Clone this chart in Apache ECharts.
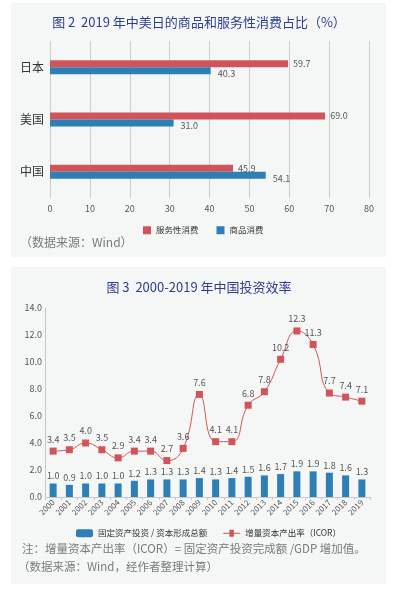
<!DOCTYPE html>
<html>
<head>
<meta charset="utf-8">
<script src="https://cdn.jsdelivr.net/npm/echarts@6/dist/echarts.min.js"></script>
<style>
html,body{margin:0;padding:0;background:#ffffff;}
#wrap{position:relative;width:398px;height:595px;}
.panel{position:absolute;background:#f5f7f7;}
#chart{position:absolute;left:0;top:0;width:398px;height:595px;}
</style>
</head>
<body>
<div id="wrap">
  <div class="panel" style="left:11px;top:3px;width:375px;height:254px;"></div>
  <div class="panel" style="left:11px;top:267px;width:375px;height:317px;"></div>
  <div id="chart"></div>
</div>
<script>
// ---- Chart 1 data ----
const countries = ['日本', '美国', '中国'];
const serviceShare = [59.7, 69.0, 45.9];
const goodsShare = [40.3, 31.0, 54.1];
const serviceName = '服务性消费';
const goodsName = '商品消费';

// ---- Chart 2 data ----
const years = ['2000','2001','2002','2003','2004','2005','2006','2007','2008','2009',
               '2010','2011','2012','2013','2014','2015','2016','2017','2018','2019'];
const investRatio = [1.0, 0.9, 1.0, 1.0, 1.0, 1.2, 1.3, 1.3, 1.3, 1.4,
                     1.3, 1.4, 1.5, 1.6, 1.7, 1.9, 1.9, 1.8, 1.6, 1.3];
const icor = [3.4, 3.5, 4.0, 3.5, 2.9, 3.4, 3.4, 2.7, 3.6, 7.6,
              4.1, 4.1, 6.8, 7.8, 10.2, 12.3, 11.3, 7.7, 7.4, 7.1];
const investName = '固定资产投资 / 资本形成总额';
const icorName = '增量资本产出率（ICOR）';

const RED = '#d0545a';
const BLUE = '#2e7fb5';
const LABEL = '#555555';
const FONT = '"Noto Sans CJK SC", "Noto Sans", sans-serif';
const fmt1 = p => Number(p.value).toFixed(1);

const chart = echarts.init(document.getElementById('chart'), null, {renderer: 'canvas'});
chart.setOption({
  backgroundColor: 'transparent',
  textStyle: {fontFamily: FONT},
  animation: false,
  title: [
    {text: '图 2  2019 年中美日的商品和服务性消费占比（%）', left: 'center', top: 11,
     textStyle: {fontSize: 13, fontWeight: 'normal', color: '#2d3e8e', fontFamily: FONT}},
    {text: '图 3  2000-2019 年中国投资效率', left: 'center', top: 276,
     textStyle: {fontSize: 13, fontWeight: 'normal', color: '#2d3e8e', fontFamily: FONT}}
  ],
  legend: [
    {data: [serviceName, goodsName], left: 138, top: 221, itemWidth: 8, itemHeight: 8,
     itemGap: 18, icon: 'rect', textStyle: {fontSize: 8.5, color: '#333', fontFamily: FONT}},
    {data: [investName, {name: icorName, icon: 'path://M0,4.5L7,4.5L7,1L12,1L12,4.5L19,4.5L19,5.5L12,5.5L12,9L7,9L7,5.5L0,5.5Z'}],
     left: 71, top: 524, itemWidth: 17, itemHeight: 8,
     itemGap: 16, textStyle: {fontSize: 8.5, color: '#333', fontFamily: FONT}}
  ],
  grid: [
    {left: 50, right: 29, top: 41, bottom: 397},
    {left: 45, right: 28, top: 308, bottom: 98}
  ],
  xAxis: [
    {type: 'value', gridIndex: 0, min: 0, max: 80, interval: 10,
     axisLine: {show: false}, axisTick: {show: false},
     splitLine: {show: true, lineStyle: {color: '#cccccc', width: 1}},
     axisLabel: {fontSize: 9, color: LABEL, margin: 6}},
    {type: 'category', gridIndex: 1, data: years,
     axisLine: {show: true, lineStyle: {color: '#c8c8c8'}},
     axisTick: {show: true, alignWithLabel: false, length: 3, lineStyle: {color: '#c8c8c8'}},
     axisLabel: {rotate: 45, fontSize: 8, color: LABEL, margin: 4, interval: 0}}
  ],
  yAxis: [
    {type: 'category', gridIndex: 0, data: countries, inverse: true,
     axisLine: {show: false}, axisTick: {show: false},
     axisLabel: {fontSize: 12, color: '#333', margin: 6}},
    {type: 'value', gridIndex: 1, min: 0, max: 14, interval: 2,
     axisLine: {show: true, lineStyle: {color: '#c8c8c8'}}, axisTick: {show: false},
     splitLine: {show: false},
     axisLabel: {fontSize: 9, color: LABEL, margin: 3, formatter: v => v.toFixed(1)}}
  ],
  series: [
    {name: serviceName, type: 'bar', xAxisIndex: 0, yAxisIndex: 0, data: serviceShare,
     barWidth: 7, barGap: '0%', itemStyle: {color: RED},
     label: {show: true, position: 'right', distance: 5, fontSize: 9, color: LABEL, formatter: fmt1}},
    {name: goodsName, type: 'bar', xAxisIndex: 0, yAxisIndex: 0, data: goodsShare,
     barWidth: 7, barGap: '0%', itemStyle: {color: BLUE},
     label: {show: true, position: 'right', distance: 7, offset: [0, 3], fontSize: 9, color: LABEL, formatter: fmt1}},
    {name: investName, type: 'bar', xAxisIndex: 1, yAxisIndex: 1, data: investRatio,
     barWidth: 7, itemStyle: {color: BLUE},
     label: {show: true, position: 'top', distance: 3, fontSize: 9, color: LABEL, formatter: fmt1}},
    {name: icorName, type: 'line', xAxisIndex: 1, yAxisIndex: 1, data: icor,
     smooth: 0.5, symbol: 'rect', symbolSize: 7,
     lineStyle: {color: RED, width: 1}, itemStyle: {color: RED},
     label: {show: true, position: 'top', distance: 4, fontSize: 9, color: LABEL, formatter: fmt1}}
  ],
  graphic: [
    {type: 'text', left: 20, top: 236,
     style: {text: '（数据来源：Wind）', fontSize: 12, fill: '#7a7a7a', fontFamily: FONT}},
    {type: 'text', left: 22, top: 543,
     style: {text: '注：增量资本产出率（ICOR）= 固定资产投资完成额 /GDP 增加值。', fontSize: 11.5, fill: '#7a7a7a', fontFamily: FONT}},
    {type: 'text', left: 18, top: 561,
     style: {text: '（数据来源：Wind，经作者整理计算）', fontSize: 11.5, fill: '#7a7a7a', fontFamily: FONT}}
  ]
});
</script>
</body>
</html>
